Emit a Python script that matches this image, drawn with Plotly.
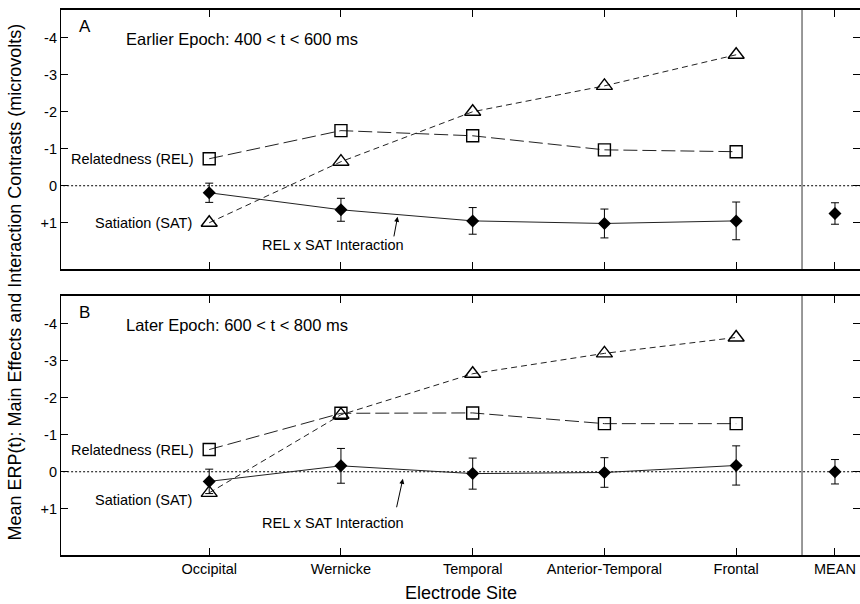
import plotly.graph_objects as go

sites = ["Occipital", "Wernicke", "Temporal", "Anterior-Temporal", "Frontal"]
site_x = [1, 2, 3, 4, 5]
mean_x = 5.75

# Panel A: Earlier epoch 400-600 ms
rel_a = [-0.73, -1.49, -1.35, -0.97, -0.92]
sat_a = [1.0, -0.65, -2.0, -2.7, -3.54]
int_a = [0.19, 0.65, 0.95, 1.02, 0.95]
int_a_err = [0.26, 0.31, 0.36, 0.39, 0.51]
mean_a = 0.75
mean_a_err = 0.29

# Panel B: Later epoch 600-800 ms
rel_b = [-0.6, -1.58, -1.59, -1.3, -1.3]
sat_b = [0.57, -1.54, -2.65, -3.2, -3.63]
int_b = [0.26, -0.16, 0.05, 0.02, -0.17]
int_b_err = [0.33, 0.47, 0.42, 0.40, 0.53]
mean_b = 0.0
mean_b_err = 0.33

ytick_vals = [-4, -3, -2, -1, 0, 1]
ytick_text = ["-4", "-3", "-2", "-1", "0", "+1"]
xtick_vals = site_x + [mean_x]
xtick_text = sites + ["MEAN"]

FONT = "Liberation Sans, Arial, sans-serif"
LC = "#222222"

fig = go.Figure()


def add_panel(xa, ya, rel, sat, inter, inter_err, mval, merr):
    # zero reference line (dotted)
    fig.add_trace(go.Scatter(x=[-0.2, 6.1], y=[0, 0], mode="lines",
                             line=dict(color="black", width=1, dash="2px,2px"),
                             xaxis=xa, yaxis=ya, showlegend=False, hoverinfo="skip"))
    fig.add_trace(go.Scatter(x=site_x, y=rel, mode="lines+markers",
                             line=dict(color=LC, width=1, dash="14px,5px"),
                             marker=dict(symbol="square-open", size=12, color="black",
                                         line=dict(width=1.4, color="black")),
                             xaxis=xa, yaxis=ya, showlegend=False))
    fig.add_trace(go.Scatter(x=site_x, y=sat, mode="lines+markers",
                             line=dict(color=LC, width=1, dash="6px,4px"),
                             marker=dict(symbol="triangle-up-open", size=14, color="black",
                                         line=dict(width=1.4, color="black")),
                             xaxis=xa, yaxis=ya, showlegend=False))
    fig.add_trace(go.Scatter(x=site_x, y=inter, mode="lines+markers",
                             line=dict(color=LC, width=1),
                             marker=dict(symbol="diamond", size=10, color="black"),
                             error_y=dict(type="data", array=inter_err, color="black",
                                          thickness=1, width=4),
                             xaxis=xa, yaxis=ya, showlegend=False))
    fig.add_trace(go.Scatter(x=[mean_x], y=[mval], mode="markers",
                             marker=dict(symbol="diamond", size=10, color="black"),
                             error_y=dict(type="data", array=[merr], color="black",
                                          thickness=1, width=4),
                             xaxis=xa, yaxis=ya, showlegend=False))


add_panel("x", "y", rel_a, sat_a, int_a, int_a_err, mean_a, mean_a_err)
add_panel("x2", "y2", rel_b, sat_b, int_b, int_b_err, mean_b, mean_b_err)

xr = [-0.125, 5.94]
yr = [2.25, -4.75]
xcommon = dict(range=xr, tickvals=xtick_vals, ticktext=xtick_text, ticks="inside",
               ticklen=7, tickcolor="black", showline=True, linecolor="black",
               linewidth=1.6, mirror="ticks", showgrid=False, zeroline=False,
               tickfont=dict(family=FONT, size=14.5, color="black"))
ycommon = dict(range=yr, tickvals=ytick_vals, ticktext=ytick_text, ticks="inside",
               ticklen=7, tickcolor="black", showline=True, linecolor="black",
               linewidth=1.2, mirror="ticks", showgrid=False, zeroline=False,
               tickfont=dict(family=FONT, size=14.5, color="black"))

fig.update_layout(
    width=860, height=604,
    margin=dict(l=61, r=0, t=10, b=49),
    paper_bgcolor="white", plot_bgcolor="white",
    font=dict(family=FONT, color="black"),
    xaxis=dict(xcommon, anchor="y", showticklabels=False, domain=[0, 1]),
    yaxis=dict(ycommon, anchor="x", domain=[0.5248, 1.0]),
    xaxis2=dict(xcommon, anchor="y2", showticklabels=True, domain=[0, 1]),
    yaxis2=dict(ycommon, anchor="x2", domain=[0.0, 0.4752]),
)

# vertical divider before MEAN
for ya in ["y", "y2"]:
    xa = "x" if ya == "y" else "x2"
    fig.add_shape(type="line", x0=5.5, x1=5.5, y0=0, y1=1, xref=xa, yref=ya + " domain",
                  line=dict(color="#777777", width=1.5))

ann_font = dict(family=FONT, size=14.5, color="black")
anns = []
for ya, xa, lab, sub, rel_y, sat_y, int_y, tail, head in [
    ("y", "x", "A", "Earlier Epoch: 400 < t < 600 ms", rel_a[0], 1.0, 1.6,
     (2.40, 1.41), (2.43, 0.84)),
    ("y2", "x2", "B", "Later Epoch: 600 < t < 800 ms", rel_b[0], 0.76, 1.38,
     (2.42, 1.0), (2.47, 0.19)),
]:
    anns.append(dict(x=0.0, y=-4.3, xref=xa, yref=ya, text=lab, showarrow=False,
                     xanchor="left", yanchor="middle",
                     font=dict(family=FONT, size=17, color="black")))
    anns.append(dict(x=0.35, y=-3.96, xref=xa, yref=ya, text=sub, showarrow=False,
                     xanchor="left", yanchor="middle",
                     font=dict(family=FONT, size=16.5, color="black")))
    anns.append(dict(x=0.9, y=rel_y, xref=xa, yref=ya, text="Relatedness (REL)",
                     showarrow=False, xanchor="right", yanchor="middle", font=ann_font))
    anns.append(dict(x=0.885, y=sat_y, xref=xa, yref=ya, text="Satiation (SAT)",
                     showarrow=False, xanchor="right", yanchor="middle", font=ann_font))
    anns.append(dict(x=1.94, y=int_y, xref=xa, yref=ya, text="REL x SAT Interaction",
                     showarrow=False, xanchor="center", yanchor="middle", font=ann_font))
    anns.append(dict(x=head[0], y=head[1], ax=tail[0], ay=tail[1], xref=xa, yref=ya,
                     axref=xa, ayref=ya, text="", showarrow=True, arrowhead=2,
                     arrowsize=1, arrowwidth=1, arrowcolor="black"))

anns.append(dict(x=-0.0588, y=0.5, xref="paper", yref="paper",
                 text="Mean ERP(t): Main Effects and Interaction Contrasts (microvolts)",
                 textangle=-90, showarrow=False, xanchor="center", yanchor="middle",
                 font=dict(family=FONT, size=18, color="black")))
anns.append(dict(x=0.5, y=-0.0697, xref="paper", yref="paper", text="Electrode Site",
                 showarrow=False, xanchor="center", yanchor="middle",
                 font=dict(family=FONT, size=18, color="black")))
fig.update_layout(annotations=anns)

fig.write_html("out.html")
